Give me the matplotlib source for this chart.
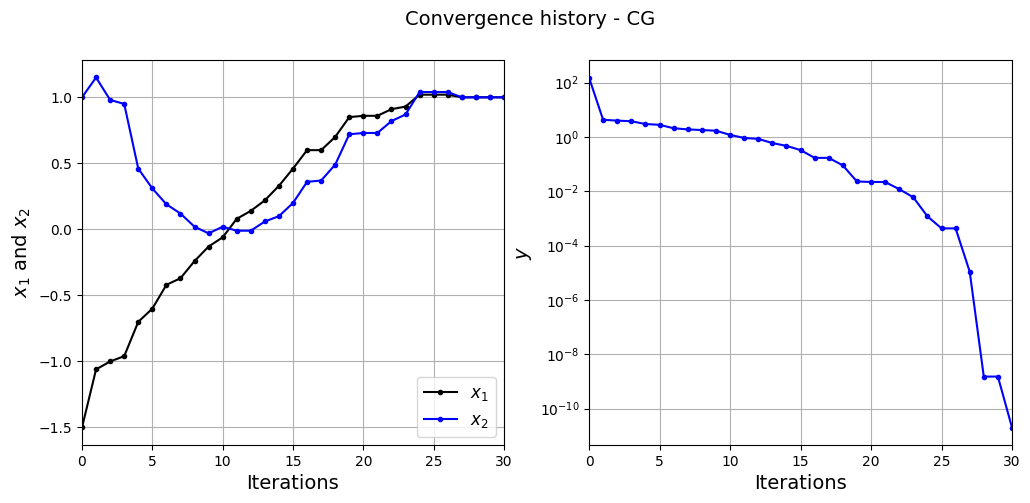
import numpy as np
import matplotlib.pyplot as plt

it = np.arange(31)
x1 = [-1.5, -1.06, -1.0, -0.96, -0.70, -0.60, -0.42, -0.37, -0.24, -0.13, -0.06,
      0.08, 0.14, 0.22, 0.33, 0.46, 0.60, 0.60, 0.70, 0.85, 0.86, 0.86, 0.91, 0.93,
      1.02, 1.02, 1.02, 1.0, 1.0, 1.0, 1.0]
x2 = [1.0, 1.15, 0.98, 0.95, 0.46, 0.31, 0.19, 0.12, 0.02, -0.03, 0.02, -0.01, -0.01,
      0.06, 0.10, 0.20, 0.36, 0.37, 0.49, 0.72, 0.73, 0.73, 0.82, 0.87, 1.04, 1.04,
      1.04, 1.0, 1.0, 1.0, 1.0]
y = [155, 4.3, 4.0, 3.8, 3.0, 2.8, 2.1, 1.9, 1.8, 1.7, 1.2, 0.92, 0.85, 0.6, 0.47,
     0.33, 0.17, 0.17, 0.09, 0.023, 0.022, 0.022, 0.012, 0.006, 1.2e-3, 4.3e-4,
     4.3e-4, 1.1e-5, 1.5e-9, 1.5e-9, 2e-11]

fig = plt.figure(figsize=(10.3, 5.03), dpi=100)
fig.suptitle("Convergence history - CG", fontsize=14, x=530/1030)

ax1 = fig.add_axes([82/1030, 1-445/503, 422/1030, 385/503])
ax1.plot(it, x1, "k.-", label="$x_1$")
ax1.plot(it, x2, "b.-", label="$x_2$")
ax1.set_xlim(0, 30)
ax1.set_xlabel("Iterations", fontsize=14)
ax1.set_ylabel("$x_1$ and $x_2$", fontsize=14)
ax1.legend(loc="lower right", fontsize=12)
ax1.grid(True)

ax2 = fig.add_axes([589/1030, 1-445/503, 423/1030, 385/503])
ax2.semilogy(it, y, "b.-")
ax2.set_xlim(0, 30)
ax2.set_xlabel("Iterations", fontsize=14)
ax2.set_ylabel("$y$", fontsize=14)
ax2.grid(True)

fig.savefig("out.png")
